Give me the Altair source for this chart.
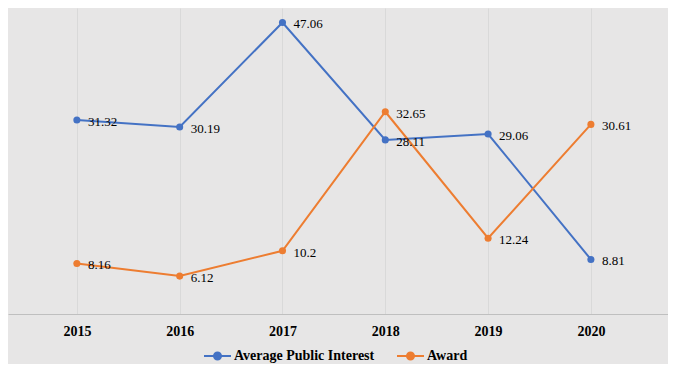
import altair as alt
import pandas as pd

years = [2015, 2016, 2017, 2018, 2019, 2020]
avg_public_interest = [31.32, 30.19, 47.06, 28.11, 29.06, 8.81]
award = [8.16, 6.12, 10.2, 32.65, 12.24, 30.61]
labels_api = ["31.32", "30.19", "47.06", "28.11", "29.06", "8.81"]
labels_award = ["8.16", "6.12", "10.2", "32.65", "12.24", "30.61"]
series = ["Average Public Interest", "Award"]
colors = ["#4472c4", "#ed7d31"]

rows = []
for y, v, l in zip(years, avg_public_interest, labels_api):
    rows.append({"year": y, "value": v, "label": l, "series": series[0]})
for y, v, l in zip(years, award, labels_award):
    rows.append({"year": y, "value": v, "label": l, "series": series[1]})
df = pd.DataFrame(rows)

FONT = "Liberation Serif"
sym = "M-1,0H1M-0.26,0A0.26,0.26,0,1,1,0.26,0A0.26,0.26,0,1,1,-0.26,0Z"

x = alt.X("year:Q",
          scale=alt.Scale(domain=[2014.33, 2020.75], nice=False, zero=False),
          axis=alt.Axis(values=years, format="d", title=None, grid=True,
                        gridColor="#d9d9d9", gridWidth=1, domainColor="#bfbfbf",
                        domainWidth=1, ticks=False, labelFont=FONT,
                        labelFontWeight="bold", labelFontSize=14,
                        labelColor="#000000", labelPadding=10))
y = alt.Y("value:Q", scale=alt.Scale(domain=[0, 49.4], nice=False), axis=None)

base = alt.Chart(df).encode(x=x, y=y)

lines = base.mark_line(strokeWidth=2, point=alt.OverlayMarkDef(size=50, filled=True)).encode(
    color=alt.Color("series:N",
                    scale=alt.Scale(domain=series, range=colors),
                    legend=alt.Legend(orient="none", legendX=195, legendY=333,
                                      direction="horizontal", title=None,
                                      symbolType=sym, symbolSize=729,
                                      symbolStrokeWidth=2, labelFont=FONT,
                                      labelFontWeight="bold", labelFontSize=14,
                                      labelColor="#000000", columnPadding=18,
                                      labelOffset=2))
)

text = base.mark_text(align="left", baseline="middle", dx=11, dy=2,
                      font=FONT, fontSize=13, color="#000000").encode(
    text="label:N", detail="series:N")

chart = (lines + text).properties(
    width=660, height=306, padding=0, background="#e7e6e6"
).configure_view(strokeWidth=0)

chart.save("out.html", embed_options={"renderer": "svg", "actions": False})
